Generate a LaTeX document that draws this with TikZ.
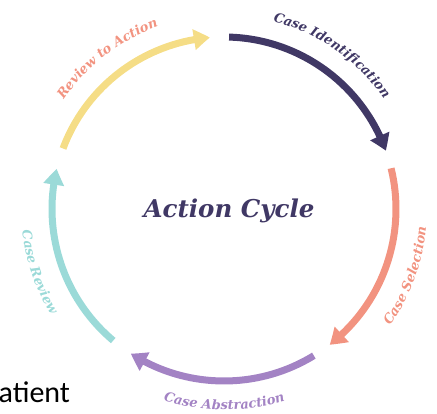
\documentclass[tikz,border=0pt]{standalone}
\usepackage{fontspec}
\setmainfont{DejaVu Serif}
\newfontfamily\calfont{Carlito}
\usetikzlibrary{arrows.meta,bending,decorations.text,calc}
\definecolor{cyel}{HTML}{F5DD86}
\definecolor{cnavy}{HTML}{403865}
\definecolor{csal}{HTML}{F29380}
\definecolor{cpur}{HTML}{A383C4}
\definecolor{cteal}{HTML}{9BDAD8}
\newcommand\lblfont{\fontsize{13pt}{15pt}\selectfont\itshape\bfseries}
\begin{document}
\begin{tikzpicture}[x=1pt,y=1pt,
  seg/.style={line width=7pt,-{Triangle[width=20pt,length=16pt,bend]}},
  lblpath/.style={decorate,decoration={text along path,text align=center,text={#1}}}]
\useasboundingbox (0,0) rectangle (437,413);
\coordinate (c) at (224,204);
% arcs
\draw[seg,cyel]  ([shift={(159.4:172)}]c) arc[start angle=159.4,end angle=94.7,radius=172];
\draw[seg,cnavy] ([shift={(88.3:172)}]c) arc[start angle=88.3,end angle=19.8,radius=172];
\draw[seg,csal]  ([shift={(13.7:172)}]c) arc[start angle=13.7,end angle=-52.1,radius=172];
\draw[seg,cpur]  ([shift={(-58.5:172)}]c) arc[start angle=-58.5,end angle=-122.8,radius=172];
\draw[seg,cteal] ([shift={(229.9:172)}]c) arc[start angle=229.9,end angle=166.5,radius=172];
% labels
\path[lblpath={|\lblfont\color{csal}|Review to Action}]
  ([shift={(157.75:194)}]c) arc[start angle=157.75,end angle=97.75,radius=194];
\path[lblpath={|\lblfont\color{cnavy}|Case Identification}]
  ([shift={(84.9:194)}]c) arc[start angle=84.9,end angle=24.9,radius=194];
\path[lblpath={|\lblfont\color{csal}|Case Selection}]
  ([shift={(-50.1:203)}]c) arc[start angle=-50.1,end angle=9.9,radius=203];
\path[lblpath={|\lblfont\color{cpur}|Case Abstraction}]
  ([shift={(-119.9:201)}]c) arc[start angle=-119.9,end angle=-59.9,radius=201];
\path[lblpath={|\lblfont\color{cteal}|Case Review}]
  ([shift={(168.85:203)}]c) arc[start angle=168.85,end angle=228.85,radius=203];
% title
\node[anchor=base,inner sep=0,text=cnavy,font=\fontsize{24.5pt}{28pt}\selectfont\itshape\bfseries] (title) at (229,195) {Action Cycle};
\node[anchor=base west,inner sep=0,font=\calfont\fontsize{30pt}{36pt}\selectfont] (pat) at (-1.5,11) {atient};
\end{tikzpicture}
\end{document}
